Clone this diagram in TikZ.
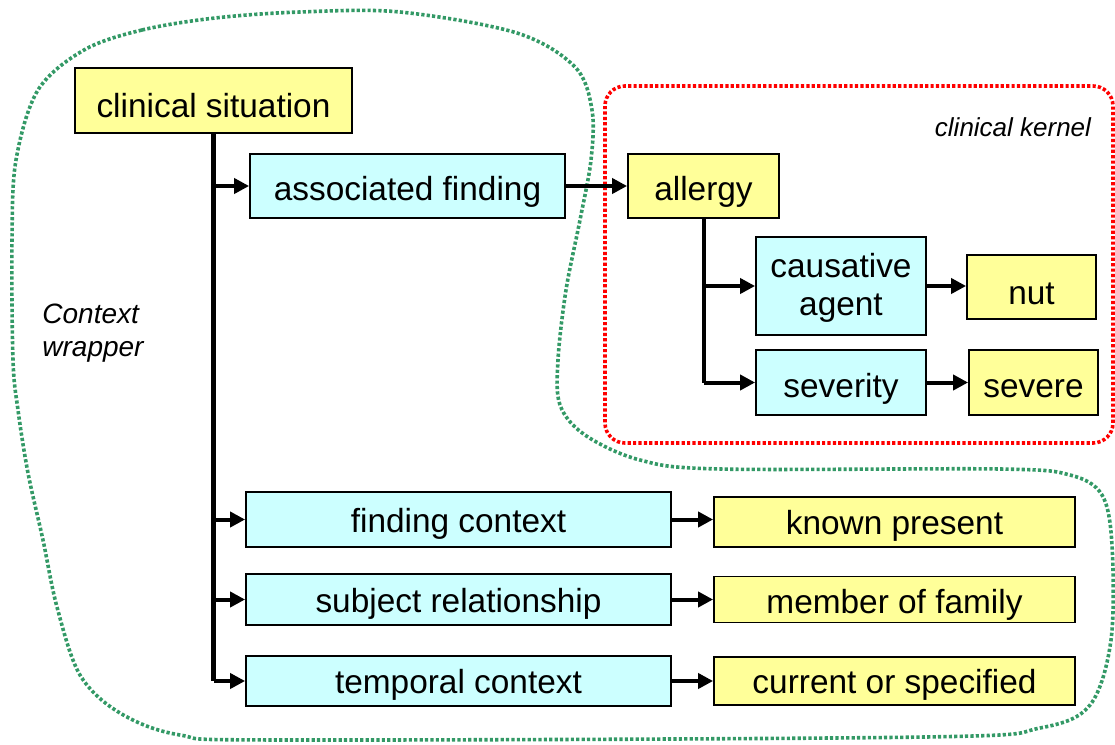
\documentclass[tikz,border=0pt]{standalone}
\usepackage{fontspec}
\setmainfont{Liberation Sans}
\usetikzlibrary{arrows.meta}
\definecolor{boxyellow}{RGB}{255,255,153}
\definecolor{boxcyan}{RGB}{204,255,255}
\definecolor{wrapgreen}{RGB}{51,153,102}
\begin{document}
\begin{tikzpicture}[x=0.5pt,y=-0.5pt,
 box/.style={draw=black, line width=0.9pt, inner sep=0pt, font=\fontsize{16.7}{19}\selectfont, align=center, text depth=0pt},
 ybox/.style={box, fill=boxyellow},
 cbox/.style={box, fill=boxcyan},
 link/.style={line width=2pt, -{Triangle[length=7.5pt,width=7.5pt]}},
 trunkline/.style={line width=2.5pt},
 subtrunk/.style={line width=2pt},
 wrapline/.style={draw=wrapgreen, line width=1.8pt, dash pattern=on 1.6pt off 1.1pt},
 kernline/.style={draw=red, line width=1.8pt, dash pattern=on 1.6pt off 1.1pt, rounded corners=10pt},
 note/.style={font=\itshape\fontsize{13}{16}\selectfont, inner sep=0pt}]
\useasboundingbox (0,0) rectangle (1115,745);
% context wrapper boundary
\draw[wrapline] plot[smooth cycle, tension=0.55] coordinates {
 (84,50) (142,30) (215,18) (300,12) (400,12) (517,33) (575,67) (592,110)
 (591,160) (580,220) (566,290) (558,360) (560,405) (585,435) (640,460)
 (720,469) (1000,469) (1070,475) (1102,495) (1112,545) (1111,640) (1090,705)
 (1040,728) (925,737) (284,740) (180,735) (120,713) (80,675) (57,607)
 (43,540) (28,473) (18,410) (13,360) (12,240) (16,160) (38,90)};
% clinical kernel boundary
\draw[kernline] (605,86) rectangle (1113,443);
% labels
\node[note] (kernlabel) at (1013,127) {clinical kernel};
\node[note, font=\itshape\fontsize{14}{16.5}\selectfont, anchor=west, align=left] (wraplabel) at (42,333) {Context\\wrapper};
% nodes
\node[ybox, minimum width=138.5pt, minimum height=32.5pt, text height=16.5pt] (cs) at (213.5,100.5) {clinical situation};
\node[cbox, minimum width=157.5pt, minimum height=32pt, text height=14pt] (af) at (407.5,186) {associated finding};
\node[ybox, minimum width=75.5pt, minimum height=32pt, text height=14pt] (al) at (703.5,186) {allergy};
\node[cbox, minimum width=85pt, minimum height=49pt, text height=29pt] (ca) at (841,286) {causative\\agent};
\node[ybox, minimum width=64.5pt, minimum height=32pt, text height=17pt] (nut) at (1031.5,287) {nut};
\node[cbox, minimum width=85pt, minimum height=32.5pt, text height=14.5pt] (sev) at (841,382.5) {severity};
\node[ybox, minimum width=64.5pt, minimum height=32.5pt, text height=14.5pt] (sv) at (1033.5,382.5) {severe};
\node[cbox, minimum width=212.5pt, minimum height=27.5pt, text height=12.5pt] (fc) at (458.5,519.5) {finding context};
\node[ybox, minimum width=180.5pt, minimum height=25pt, text height=12pt] (kp) at (894.5,522) {known present};
\node[cbox, minimum width=212.5pt, minimum height=25.5pt, text height=12.5pt] (sr) at (458.5,599.5) {subject relationship};
\node[ybox, minimum width=180.5pt, minimum height=23pt, text height=13.5pt] (mf) at (894.5,599.5) {member of family};
\node[cbox, minimum width=212.5pt, minimum height=25pt, text height=12pt] (tc) at (458.5,681) {temporal context};
\node[ybox, minimum width=180.5pt, minimum height=24pt, text height=12pt] (cur) at (894.5,681) {current or specified};
% main trunk
\draw[trunkline] (cs.south) -- (tc.west -| cs.south);
\draw[link] (af.west -| cs.south) -- (af.west);
\draw[link] (fc.west -| cs.south) -- (fc.west);
\draw[link] (sr.west -| cs.south) -- (sr.west);
\draw[link] (tc.west -| cs.south) -- (tc.west);
% kernel
\draw[link] (af.east) -- (al.west);
\draw[subtrunk] (al.south) -- (sev.west -| al.south);
\draw[link] (ca.west -| al.south) -- (ca.west);
\draw[link] (sev.west -| al.south) -- (sev.west);
\draw[link] (ca.east) -- (ca.east -| nut.west);
\draw[link] (sev.east) -- (sv.west);
% values
\draw[link] (fc.east) -- (fc.east -| kp.west);
\draw[link] (sr.east) -- (sr.east -| mf.west);
\draw[link] (tc.east) -- (tc.east -| cur.west);
\end{tikzpicture}
\end{document}
